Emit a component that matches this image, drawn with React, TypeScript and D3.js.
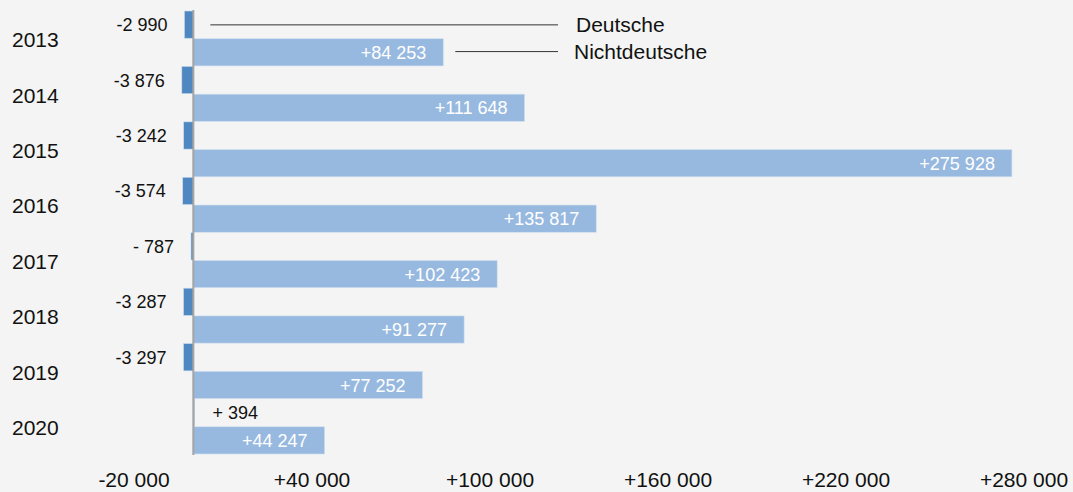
import * as React from 'react';
import {useEffect, useRef} from 'react';
import * as d3 from 'd3';

const years = ['2013', '2014', '2015', '2016', '2017', '2018', '2019', '2020'];
const deutsche = [-2990, -3876, -3242, -3574, -787, -3287, -3297, 394];
const nichtdeutsche = [84253, 111648, 275928, 135817, 102423, 91277, 77252, 44247];
const xTicks = [-20000, 40000, 100000, 160000, 220000, 280000];
const seriesNames = ['Deutsche', 'Nichtdeutsche'];

const width = 1073;
const height = 492;
const font = '"Liberation Sans", Arial, sans-serif';

// "+84 253", "- 787" : sign, thousands group (may be empty), space, last three digits
const fmt = (v: number) => {
  const a = Math.abs(v);
  const th = Math.floor(a / 1000);
  const rest = String(a % 1000).padStart(th ? 3 : 1, '0');
  return (v < 0 ? '-' : '+') + (th ? th : '') + ' ' + rest;
};

export default function App() {
  const ref = useRef<SVGSVGElement>(null);

  useEffect(() => {
    document.body.style.margin = '0';
    const x = d3.scaleLinear().domain([-20000, 280000]).range([134, 1024]);
    const y = d3.scaleBand<string>().domain(years).range([11, 454.5]).padding(0);
    const half = y.bandwidth() / 2;

    const svg = d3.select(ref.current!);
    svg.selectAll('*').remove();

    svg.append('rect')
      .attr('width', width).attr('height', height)
      .attr('fill', '#f3f4f3');

    const rows = years.map((yr, i) => ({yr, d: deutsche[i], n: nichtdeutsche[i]}));

    // Deutsche bars
    svg.append('g')
      .selectAll('rect')
      .data(rows)
      .join('rect')
      .attr('x', r => x(Math.min(0, r.d)))
      .attr('width', r => Math.abs(x(r.d) - x(0)))
      .attr('y', r => y(r.yr)!)
      .attr('height', half - 0.5)
      .attr('fill', '#4f87c1')
      .attr('stroke', '#c9d9ec')
      .attr('stroke-width', 0.6);

    // Nichtdeutsche bars
    svg.append('g')
      .selectAll('rect')
      .data(rows)
      .join('rect')
      .attr('x', x(0))
      .attr('width', r => x(r.n) - x(0))
      .attr('y', r => y(r.yr)! + half)
      .attr('height', half - 0.5)
      .attr('fill', '#97b9e0')
      .attr('stroke', '#d3e0f0')
      .attr('stroke-width', 0.6);

    // zero line
    svg.append('line')
      .attr('x1', x(0)).attr('x2', x(0))
      .attr('y1', 10).attr('y2', 455)
      .attr('stroke', '#a4a4a4')
      .attr('stroke-width', 2);

    // year labels
    svg.append('g')
      .style('font-family', font)
      .style('font-size', '21px')
      .selectAll('text')
      .data(rows)
      .join('text')
      .attr('x', 12)
      .attr('y', r => y(r.yr)! + half + 1)
      .attr('dy', '0.35em')
      .attr('fill', '#111')
      .text(r => r.yr);

    // Deutsche value labels
    svg.append('g')
      .style('font-family', font)
      .style('font-size', '18px')
      .selectAll('text')
      .data(rows)
      .join('text')
      .attr('x', r => r.d < 0 ? x(r.d) - 17 : x(r.d) + 18)
      .attr('text-anchor', r => r.d < 0 ? 'end' : 'start')
      .attr('y', r => y(r.yr)! + half / 2)
      .attr('dy', '0.35em')
      .attr('fill', '#111')
      .text(r => fmt(r.d));

    // Nichtdeutsche value labels
    svg.append('g')
      .style('font-family', font)
      .style('font-size', '18px')
      .selectAll('text')
      .data(rows)
      .join('text')
      .attr('x', r => x(r.n) - 17)
      .attr('text-anchor', 'end')
      .attr('y', r => y(r.yr)! + half * 1.5)
      .attr('dy', '0.35em')
      .attr('fill', '#fff')
      .text(r => fmt(r.n));

    // series callouts on the first year
    const first = rows[0];
    const callouts = [
      {name: seriesNames[0], x0: x(Math.max(0, first.d)) + 17, yc: y(first.yr)! + half / 2},
      {name: seriesNames[1], x0: x(first.n) + 12, yc: y(first.yr)! + half * 1.5 - 1},
    ];
    const cg = svg.append('g');
    cg.selectAll('line')
      .data(callouts)
      .join('line')
      .attr('x1', c => c.x0).attr('x2', 558)
      .attr('y1', c => c.yc).attr('y2', c => c.yc)
      .attr('stroke', '#333')
      .attr('stroke-width', 1);
    cg.selectAll('text')
      .data(callouts)
      .join('text')
      .attr('x', (c, i) => i === 0 ? 576 : 574)
      .attr('y', c => c.yc)
      .attr('dy', '0.35em')
      .style('font-family', font)
      .style('font-size', '21px')
      .attr('fill', '#111')
      .text(c => c.name);

    // x axis labels
    svg.append('g')
      .style('font-family', font)
      .style('font-size', '21px')
      .selectAll('text')
      .data(xTicks)
      .join('text')
      .attr('x', t => x(t))
      .attr('y', 487)
      .attr('text-anchor', 'middle')
      .attr('fill', '#111')
      .text(t => fmt(t));
  }, []);

  return <svg ref={ref} width={width} height={height} style={{display: 'block'}}/>;
}
